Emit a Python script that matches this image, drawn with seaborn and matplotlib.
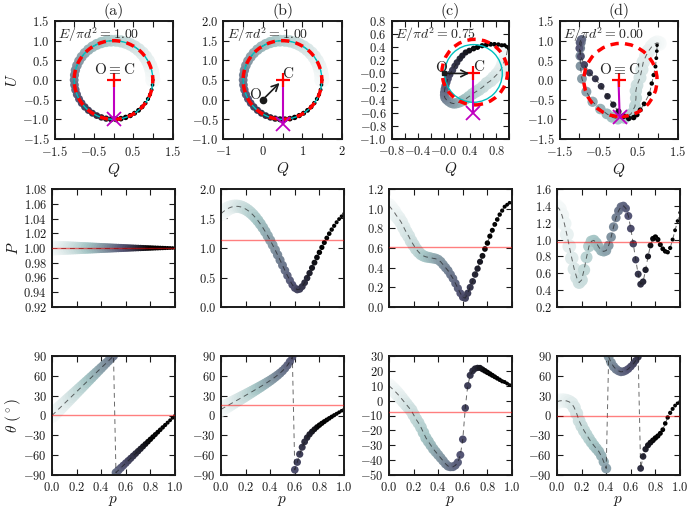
import numpy as np
import pandas as pd
import seaborn as sns
import matplotlib as mpl
import matplotlib.pyplot as plt
from matplotlib.patches import Circle

# phase grid (51 samples, the dots in the plots)
p = np.linspace(0, 1, 51)

# (a) E/pi d^2 = 1.00, O == C
P_a = [1.00] * 51
theta_a = [0, 3.6, 7.2, 10.8, 14.4, 18, 21.6, 25.2, 28.8, 32.4, 36, 39.6, 43.2,
           46.8, 50.4, 54, 57.6, 61.2, 64.8, 68.4, 72, 75.6, 79.2, 82.8, 86.4, 90,
           -86.4, -82.8, -79.2, -75.6, -72, -68.4, -64.8, -61.2, -57.6, -54, -50.4,
           -46.8, -43.2, -39.6, -36, -32.4, -28.8, -25.2, -21.6, -18, -14.4, -10.8,
           -7.2, -3.6, 0]

# (b) E/pi d^2 = 1.00, C offset from O
P_b = [1.581, 1.618, 1.648, 1.673, 1.691, 1.702, 1.707, 1.705, 1.697, 1.682,
       1.661, 1.634, 1.600, 1.561, 1.515, 1.464, 1.407, 1.345, 1.278, 1.206,
       1.131, 1.051, 0.969, 0.883, 0.796, 0.707, 0.619, 0.532, 0.450, 0.377,
       0.321, 0.294, 0.303, 0.346, 0.412, 0.490, 0.575, 0.663, 0.752, 0.840,
       0.926, 1.010, 1.092, 1.169, 1.243, 1.312, 1.376, 1.436, 1.490, 1.538, 1.581]
theta_b = [9.2, 11.4, 13.5, 15.6, 17.8, 19.9, 22.0, 24.1, 26.2, 28.3,
           30.4, 32.6, 34.7, 36.9, 39.1, 41.3, 43.5, 45.8, 48.1, 50.5,
           52.9, 55.5, 58.2, 61.0, 64.1, 67.5, 71.4, 75.9, 81.5, 88.6,
           -82.1, -70.6, -58.5, -48.0, -39.8, -33.5, -28.5, -24.4, -20.8, -17.5,
           -14.6, -11.8, -9.2, -6.7, -4.3, -1.9, 0.4, 2.6, 4.9, 7.1, 9.2]

# (c) E/pi d^2 = 0.75
P_c = [1.03, 1.00, 0.97, 0.93, 0.90, 0.86, 0.81, 0.76, 0.72, 0.67,
       0.63, 0.59, 0.56, 0.535, 0.52, 0.51, 0.505, 0.50, 0.495, 0.49,
       0.48, 0.46, 0.43, 0.40, 0.37, 0.33, 0.29, 0.24, 0.19, 0.14,
       0.10, 0.09, 0.14, 0.20, 0.26, 0.33, 0.39, 0.46, 0.52, 0.59,
       0.65, 0.72, 0.78, 0.84, 0.89, 0.94, 0.98, 1.02, 1.04, 1.06, 1.06]
theta_c = [10, 8.5, 7, 5.3, 3.5, 1.5, -0.5, -2.5, -4.5, -6.5,
           -9.5, -12.5, -15, -18, -21.5, -25, -27.5, -30, -32.5, -34.5,
           -36.5, -38.5, -40.5, -42.5, -44, -44.5, -44.5, -43.5, -41.5, -36.5,
           -26, -5, 10, 17, 20, 21.5, 22, 22, 21, 20,
           19, 18, 17, 16, 15, 14, 13, 12.5, 11.5, 10.5, 10]

# (d) E/pi d^2 = 0.00, O == C
P_d = [1.39, 1.36, 1.29, 1.19, 1.06, 0.92, 0.78, 0.65, 0.55, 0.49,
       0.52, 0.64, 0.79, 0.92, 0.98, 0.99, 0.96, 0.91, 0.87, 0.86,
       0.87, 0.93, 1.03, 1.15, 1.26, 1.34, 1.39, 1.40, 1.37, 1.28,
       1.13, 0.95, 0.76, 0.59, 0.47, 0.50, 0.64, 0.80, 0.93, 1.01,
       1.03, 1.00, 0.94, 0.89, 0.86, 0.85, 0.90, 1.00, 1.11, 1.22, 1.32]
theta_d = [21, 22, 22.5, 22.5, 22, 20.5, 18, 12, 3, -8,
           -16, -23, -29, -35, -40.5, -45.5, -50, -54.5, -61, -70,
           -80, 89, 80, 74, 70, 67.5, 66, 66.5, 68, 70.5,
           74, 78, 83, 88.5, -80, -62, -51, -45, -41, -37.5,
           -34, -31, -27, -21.5, -12, -3, 4, 10, 15, 18.5, 21]

# reference (mean) levels drawn in red
P_mean = [1.00, 1.13, 0.61, 0.975]
theta_mean = [1.0, 15.5, -7.5, 0.0]
energy = ["1.00", "1.00", "0.75", "0.00"]
titles = ["(a)", "(b)", "(c)", "(d)"]

RED = "#FF0000"
MAGENTA = "#C000C0"
CYAN = "#00BFBF"

sns.set_theme(style="ticks")
plt.rcParams.update({
    "font.family": "serif",
    "font.serif": ["cmr10"],
    "mathtext.fontset": "cm",
    "axes.formatter.use_mathtext": True,
    "axes.unicode_minus": True,
    "axes.edgecolor": "k",
    "axes.linewidth": 1.4,
    "xtick.direction": "in",
    "ytick.direction": "in",
    "xtick.top": True,
    "ytick.right": True,
    "xtick.major.size": 4,
    "ytick.major.size": 4,
    "xtick.major.width": 0.8,
    "ytick.major.width": 0.8,
    "xtick.major.pad": 4.5,
    "ytick.major.pad": 3.5,
    "xtick.color": "k",
    "ytick.color": "k",
    "xtick.labelsize": 9,
    "ytick.labelsize": 9,
    "axes.labelsize": 11,
    "axes.labelcolor": "k",
})

fig = plt.figure(figsize=(6.92, 5.09), dpi=100)
lefts = [52, 221, 389, 557]
rows = [(21, 139), (189, 307), (356, 475)]


def add_ax(col, row):
    top, bot = rows[row]
    return fig.add_axes([lefts[col] / 692, 1 - bot / 509, 123 / 692, (bot - top) / 509])


# marker area (pt^2): diameter shrinks with phase
diam_px = 3.5 + 11.5 * (1 - p) ** 1.1
sizes = (0.72 * diam_px) ** 2
# colour stays pale for longer, then darkens quickly
color_norm = mpl.colors.PowerNorm(gamma=1.7, vmin=-0.1, vmax=0.8)


def draw_track(ax, x, y):
    df = pd.DataFrame({"x": x, "y": y, "p": p, "sz": sizes})
    sns.scatterplot(data=df, x="x", y="y", hue="p", palette="bone_r",
                    hue_norm=color_norm, size="sz",
                    sizes=(sizes.min(), sizes.max()),
                    size_norm=(sizes.min(), sizes.max()),
                    linewidth=0, legend=False, ax=ax, zorder=2)
    sns.lineplot(data=df, x="x", y="y", sort=False, estimator=None, color="k",
                 lw=0.7, linestyle=(0, (5, 4)), alpha=0.65, ax=ax, zorder=3)
    ax.set_xlabel("")
    ax.set_ylabel("")


def set_ticks(ax, xt, xlab, yt, ylab):
    ax.set_xticks(xt)
    ax.set_xticklabels(xlab)
    ax.set_yticks(yt)
    ax.set_yticklabels(ylab)


def fmt(vals, every=1, dec=1, show=True):
    out = []
    for i, v in enumerate(vals):
        if show and i % every == 0:
            out.append("$%.*f$" % (dec, v) if dec > 0 else "$%d$" % round(v))
        else:
            out.append("")
    return out


# top-row geometry: limits, ticks, circles and markers
top_cfg = [
    dict(xlim=(-1.5, 1.5), ylim=(-1.5, 1.5),
         xt=np.arange(-1.5, 1.51, 0.5), xl=fmt(np.arange(-1.5, 1.51, 0.5), 2),
         yt=np.arange(-1.5, 1.51, 0.5), yl=fmt(np.arange(-1.5, 1.51, 0.5)),
         cyan=((0, 0), 1.0), red=((0, 0), 1.0), C=(0, 0), X=(0, -1.0),
         O=None, labels=[("O$\\equiv$C", 0.02, 0.27)]),
    dict(xlim=(-1, 2), ylim=(-1, 2),
         xt=np.arange(-1, 2.01, 0.5), xl=fmt(np.arange(-1, 2.01, 0.5), 2, 0),
         yt=np.arange(-1, 2.01, 0.5), yl=fmt(np.arange(-1, 2.01, 0.5)),
         cyan=((0.5, 0.5), 1.0), red=((0.5, 0.5), 1.0), C=(0.5, 0.5), X=(0.5, -0.62),
         O=("o", 4.5), labels=[("O", -0.19, 0.12), ("C", 0.63, 0.65)]),
    dict(xlim=(-0.8, 1.0), ylim=(-1.0, 0.8),
         xt=np.arange(-0.8, 1.01, 0.2), xl=fmt(np.arange(-0.8, 1.01, 0.2), 2),
         yt=np.arange(-1.0, 0.81, 0.2), yl=fmt(np.arange(-1.0, 0.81, 0.2)),
         cyan=((0.45, 0.0), 0.44), red=((0.47, 0.02), 0.5), C=(0.45, 0.0), X=(0.45, -0.6),
         O=("s", 3.5), labels=[("O", -0.05, 0.08), ("C", 0.53, 0.09)]),
    dict(xlim=(-1.5, 1.5), ylim=(-1.5, 1.5),
         xt=np.arange(-1.5, 1.51, 0.5), xl=fmt(np.arange(-1.5, 1.51, 0.5), 2),
         yt=np.arange(-1.5, 1.51, 0.5), yl=fmt(np.arange(-1.5, 1.51, 0.5)),
         cyan=None, red=((0.05, 0.0), 0.93), C=(0, 0), X=(0.03, -0.93),
         O=None, labels=[("O$\\equiv$C", 0.03, 0.27)]),
]

mid_cfg = [
    dict(ylim=(0.92, 1.08), yt=np.arange(0.92, 1.081, 0.02), dec=2),
    dict(ylim=(0.0, 2.0), yt=np.arange(0.0, 2.01, 0.5), dec=1),
    dict(ylim=(0.0, 1.2), yt=np.arange(0.0, 1.21, 0.2), dec=1),
    dict(ylim=(0.2, 1.6), yt=np.arange(0.2, 1.61, 0.2), dec=1),
]
bot_cfg = [
    dict(ylim=(-90, 90), yt=np.arange(-90, 91, 30)),
    dict(ylim=(-90, 90), yt=np.arange(-90, 91, 30)),
    dict(ylim=(-50, 30), yt=np.arange(-50, 31, 10)),
    dict(ylim=(-90, 90), yt=np.arange(-90, 91, 30)),
]

P_all = [P_a, P_b, P_c, P_d]
theta_all = [theta_a, theta_b, theta_c, theta_d]
pt = np.arange(0, 1.01, 0.2)

for i in range(4):
    P = np.array(P_all[i])
    th = np.array(theta_all[i])
    # Stokes Q, U from polarisation degree and angle
    Q = P * np.cos(np.radians(2 * th))
    U = P * np.sin(np.radians(2 * th))

    # ---- top row: Q-U plane
    cfg = top_cfg[i]
    ax = add_ax(i, 0)
    draw_track(ax, Q, U)
    if cfg["cyan"] is not None:
        ax.add_patch(Circle(cfg["cyan"][0], cfg["cyan"][1], fill=False,
                            ec=CYAN, lw=1.0, zorder=4))
    ax.add_patch(Circle(cfg["red"][0], cfg["red"][1], fill=False, ec=RED,
                        lw=2.5, linestyle=(0, (2.4, 1.8)), zorder=5))
    cx, cy = cfg["C"]
    xx, xy = cfg["X"]
    ax.plot([cx, xx], [cy, xy], color=MAGENTA, lw=1.5, zorder=6)
    ax.plot(xx, xy, "x", color=MAGENTA, ms=10, mew=1.3, zorder=7)
    ax.plot(cx, cy, "+", color=RED, ms=10, mew=1.6, zorder=8)
    if cfg["O"] is not None:
        ax.plot(0, 0, cfg["O"][0], color="k", ms=cfg["O"][1], zorder=8)
        ax.annotate("", xy=(cx, cy), xytext=(0, 0),
                    arrowprops=dict(arrowstyle="->", color="k", lw=1.2,
                                    shrinkA=0, shrinkB=3), zorder=8)
    for txt, tx, ty in cfg["labels"]:
        ax.text(tx, ty, txt, ha="center", va="center", fontsize=11, zorder=9)
    ax.text(0.03, 0.965, r"$E/\pi d^2 = %s$" % energy[i], transform=ax.transAxes,
            ha="left", va="top", fontsize=10, zorder=9)
    ax.set_xlim(cfg["xlim"])
    ax.set_ylim(cfg["ylim"])
    set_ticks(ax, cfg["xt"], cfg["xl"], cfg["yt"], cfg["yl"])
    ax.set_aspect("equal", adjustable="box")
    ax.set_title(titles[i], fontsize=11.5, pad=4)
    ax.set_xlabel("$Q$", labelpad=1)
    if i == 0:
        ax.set_ylabel("$U$", labelpad=2)

    # ---- middle row: polarisation degree
    cfg = mid_cfg[i]
    ax = add_ax(i, 1)
    draw_track(ax, p, P)
    ax.axhline(P_mean[i], color=RED, lw=1.0, alpha=0.5, zorder=5)
    ax.set_xlim(0, 1)
    ax.set_ylim(cfg["ylim"])
    set_ticks(ax, pt, [""] * len(pt), cfg["yt"], fmt(cfg["yt"], dec=cfg["dec"]))
    if i == 0:
        ax.set_ylabel("$P$", labelpad=2)

    # ---- bottom row: polarisation angle
    cfg = bot_cfg[i]
    ax = add_ax(i, 2)
    draw_track(ax, p, th)
    ax.axhline(theta_mean[i], color=RED, lw=1.0, alpha=0.5, zorder=5)
    ax.set_xlim(0, 1)
    ax.set_ylim(cfg["ylim"])
    set_ticks(ax, pt, fmt(pt), cfg["yt"], fmt(cfg["yt"], dec=0))
    ax.set_xlabel("$p$", labelpad=0)
    if i == 0:
        ax.set_ylabel(r"$\theta\ (^\circ)$", labelpad=0)

fig.savefig("out.png", dpi=100)
